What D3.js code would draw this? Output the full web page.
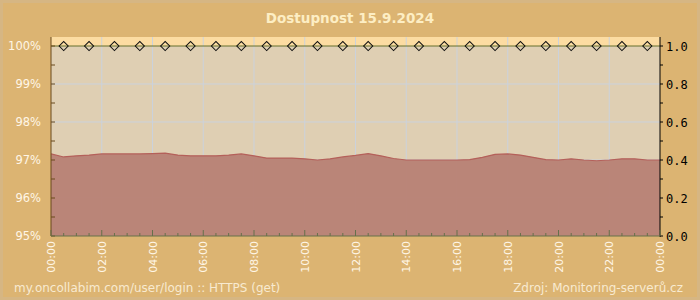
<!DOCTYPE html>
<meta charset="utf-8">
<script src="https://d3js.org/d3.v7.min.js"></script>
<style>
  body { margin: 0; }
  svg { display: block; }
</style>
<div id="chart"></div>
<script>
  // availability in %, sampled every 30 minutes from 00:00 to 24:00
  var hours = d3.range(0, 24.01, 0.5);
  var availability = [
    97.16, 97.08, 97.11, 97.13, 97.16, 97.16, 97.16, 97.16, 97.17, 97.18,
    97.13, 97.11, 97.11, 97.11, 97.13, 97.16, 97.11, 97.05, 97.05, 97.05,
    97.03, 97.00, 97.03, 97.08, 97.12, 97.17, 97.11, 97.04, 97.00, 97.00,
    97.00, 97.00, 97.00, 97.01, 97.07, 97.15, 97.16, 97.13, 97.07, 97.01,
    97.00, 97.03, 97.00, 96.98, 97.00, 97.03, 97.03, 97.00, 97.00
  ];
  // status checks (all ok) at every half hour
  var checkHours = d3.range(0.5, 24, 1);
  var leftTicks = [95, 96, 97, 98, 99, 100];
  var rightTicks = [0, 0.2, 0.4, 0.6, 0.8, 1.0];
  var timeTicks = ["00:00", "02:00", "04:00", "06:00", "08:00", "10:00", "12:00",
    "14:00", "16:00", "18:00", "20:00", "22:00", "00:00"];

  var W = 700, H = 300;
  var pLeft = 51, pRight = 660, pTop = 37, pBottom = 236;

  var svg = d3.select("#chart").append("svg")
    .attr("width", W).attr("height", H);

  // background frame
  svg.append("rect").attr("x", 0).attr("y", 0).attr("width", W).attr("height", H)
    .attr("fill", "#d6b683");
  svg.append("rect").attr("x", 3).attr("y", 3).attr("width", W - 6).attr("height", H - 6)
    .attr("fill", "#dcb472");

  var x = d3.scaleLinear().domain([0, 24]).range([pLeft, pRight]);
  var y = d3.scaleLinear().domain([95, 100]).range([pBottom, 46]);
  var y2 = d3.scaleLinear().domain([0, 1]).range([pBottom, 46]);

  // plot area
  svg.append("rect").attr("x", pLeft).attr("y", pTop)
    .attr("width", pRight - pLeft).attr("height", pBottom - pTop)
    .attr("fill", "#dfcfb3");
  svg.append("rect").attr("x", pLeft).attr("y", pTop)
    .attr("width", pRight - pLeft).attr("height", y(100) - pTop)
    .attr("fill", "#fcdca2");

  // grid
  svg.append("g").selectAll("line").data(d3.range(2, 24, 2)).join("line")
    .attr("x1", function (d) { return x(d); }).attr("x2", function (d) { return x(d); })
    .attr("y1", pTop).attr("y2", pBottom)
    .attr("stroke", "#cbd2dc").attr("stroke-width", 1);
  svg.append("g").selectAll("line").data([96, 97, 98, 99]).join("line")
    .attr("x1", pLeft).attr("x2", pRight)
    .attr("y1", function (d) { return y(d); }).attr("y2", function (d) { return y(d); })
    .attr("stroke", "#cbd2dc").attr("stroke-width", 1);

  // availability area
  var pts = hours.map(function (h, i) { return [h, availability[i]]; });
  svg.append("path").datum(pts)
    .attr("fill", "#b98276").attr("fill-opacity", 0.97)
    .attr("d", d3.area()
      .x(function (d) { return x(d[0]); })
      .y0(pBottom)
      .y1(function (d) { return y(d[1]); }));
  svg.append("path").datum(pts)
    .attr("fill", "none").attr("stroke", "#b4605a").attr("stroke-width", 1.2)
    .attr("d", d3.line()
      .x(function (d) { return x(d[0]); })
      .y(function (d) { return y(d[1]); }));

  // 100% line with check markers
  svg.append("line").attr("x1", pLeft).attr("x2", pRight)
    .attr("y1", y(100)).attr("y2", y(100))
    .attr("stroke", "#66702e").attr("stroke-width", 1);
  svg.append("g").selectAll("path").data(checkHours).join("path")
    .attr("transform", function (d) { return "translate(" + x(d) + "," + y(100) + ") rotate(45)"; })
    .attr("d", d3.symbol().type(d3.symbolSquare).size(42))
    .attr("fill", "none").attr("stroke", "#111").attr("stroke-width", 1);

  // left axis
  var gl = svg.append("g");
  gl.append("line").attr("x1", pLeft).attr("x2", pLeft).attr("y1", pTop).attr("y2", pBottom)
    .attr("stroke", "#6a4a1c");
  gl.selectAll(".tk").data(d3.range(95, 100.01, 0.5)).join("line")
    .attr("x1", pLeft).attr("x2", pLeft + 4)
    .attr("y1", function (d) { return y(d); }).attr("y2", function (d) { return y(d); })
    .attr("stroke", "#6a4a1c");
  gl.selectAll("text").data(leftTicks).join("text")
    .attr("x", 41).attr("y", function (d) { return y(d) + 4; })
    .attr("text-anchor", "end")
    .attr("font-family", "DejaVu Sans, sans-serif").attr("font-size", 11.5)
    .attr("fill", "#fff6e6")
    .text(function (d) { return d + "%"; });

  // right axis
  var gr = svg.append("g");
  gr.append("line").attr("x1", pRight).attr("x2", pRight).attr("y1", pTop).attr("y2", pBottom + 1)
    .attr("stroke", "#000");
  gr.selectAll(".tk").data(d3.range(0, 1.01, 0.1)).join("line")
    .attr("x1", pRight).attr("x2", pRight + 3)
    .attr("y1", function (d) { return y2(d); }).attr("y2", function (d) { return y2(d); })
    .attr("stroke", "#000");
  gr.selectAll("text").data(rightTicks).join("text")
    .attr("x", 666).attr("y", function (d) { return y2(d) + 5; })
    .attr("font-family", "DejaVu Sans Mono, monospace").attr("font-size", 12)
    .attr("fill", "#000")
    .text(function (d) { return d3.format(".1f")(d); });

  // bottom axis
  var gb = svg.append("g");
  gb.append("line").attr("x1", pLeft).attr("x2", pRight).attr("y1", pBottom).attr("y2", pBottom)
    .attr("stroke", "#66704a");
  gb.selectAll(".tk").data(d3.range(0, 24.01, 0.5)).join("line")
    .attr("x1", function (d) { return x(d); }).attr("x2", function (d) { return x(d); })
    .attr("y1", pBottom).attr("y2", function (d) { return d % 2 === 0 ? pBottom - 6 : pBottom - 3; })
    .attr("stroke", "#66704a");
  gb.selectAll("text").data(timeTicks).join("text")
    .attr("transform", function (d, i) { return "translate(" + (x(i * 2) + 4) + ",241) rotate(-90)"; })
    .attr("text-anchor", "end")
    .attr("font-family", "DejaVu Sans, sans-serif").attr("font-size", 11)
    .attr("fill", "#fff6e6")
    .text(function (d) { return d; });

  // title and footer
  svg.append("text").attr("x", 350).attr("y", 23).attr("text-anchor", "middle")
    .attr("font-family", "DejaVu Sans, sans-serif").attr("font-size", 13.5)
    .attr("font-weight", "bold").attr("fill", "#fdeec4")
    .text("Dostupnost 15.9.2024");
  svg.append("text").attr("x", 14).attr("y", 292)
    .attr("font-family", "DejaVu Sans, sans-serif").attr("font-size", 12)
    .attr("fill", "#f8ead0")
    .text("my.oncollabim.com/user/login :: HTTPS (get)");
  svg.append("text").attr("x", 683).attr("y", 292).attr("text-anchor", "end")
    .attr("font-family", "DejaVu Sans, sans-serif").attr("font-size", 12)
    .attr("fill", "#f8ead0")
    .text("Zdroj: Monitoring-serverů.cz");
</script>
